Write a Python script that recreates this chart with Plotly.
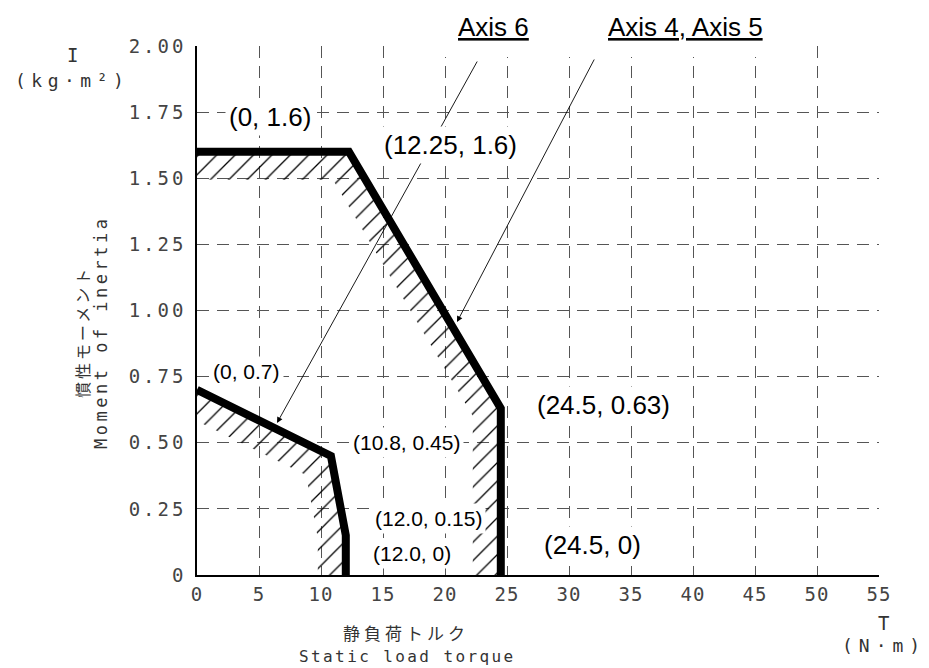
import numpy as np
import plotly.graph_objects as go

# ---------------- data ----------------
axis45_T = [0, 12.25, 24.5, 24.5]
axis45_I = [1.6, 1.6, 0.63, 0]
axis6_T = [0, 10.8, 12.0, 12.0]
axis6_I = [0.7, 0.45, 0.15, 0]

x_ticks = [0, 5, 10, 15, 20, 25, 30, 35, 40, 45, 50, 55]
y_ticks = [0, 0.25, 0.5, 0.75, 1.0, 1.25, 1.5, 1.75, 2.0]
y_ticktext = ["0", "0.25", "0.50", "0.75", "1.00", "1.25", "1.50", "1.75", "2.00"]

# ---------------- layout constants ----------------
OFF = 8                      # page body margin
W, H = 929 - OFF, 668 - OFF
L, T = 197 - OFF, 46 - OFF
R, B = W - (879 - OFF), H - (575 - OFF)
PW, PH = W - L - R, H - T - B
XR, YR = (0, 55), (0, 2)
SX = PW / (XR[1] - XR[0])   # px per data unit
SY = PH / (YR[1] - YR[0])

MONO = "DejaVu Sans Mono"
SANS = "Liberation Sans, Arial"
CJK = "Noto Sans CJK JP"


def pp(px, py):
    """screen pixel (of the 929x668 window) -> paper coords"""
    px, py = px - OFF, py - OFF
    return (px - L) / PW, (H - B - py) / PH


def spaced(text, ls):
    return '<span style="letter-spacing:%gpx">%s</span>' % (ls, text)


def inner_band(xs, ys, d):
    """polygon of a band of pixel thickness d on the inner side of a polyline"""
    P = np.column_stack([np.asarray(xs, float) * SX, np.asarray(ys, float) * SY])
    lines = []
    for i in range(len(P) - 1):
        a, b = P[i], P[i + 1]
        t = (b - a) / np.linalg.norm(b - a)
        n = np.array([t[1], -t[0]])
        lines.append((a + d * n, t))

    def inter(l1, l2):
        p, t = l1
        q, u = l2
        A = np.array([[t[0], -u[0]], [t[1], -u[1]]])
        s = np.linalg.solve(A, q - p)
        return p + s[0] * t

    start = (np.array([P[0][0], 0.0]), np.array([0.0, 1.0]))
    end = (np.array([0.0, P[-1][1]]), np.array([1.0, 0.0]))
    seq = [start] + lines + [end]
    inner = [inter(seq[i], seq[i + 1]) for i in range(len(seq) - 1)]
    inner = np.array(inner[::-1])
    poly = np.vstack([P, inner, P[:1]])
    return poly[:, 0] / SX, poly[:, 1] / SY


fig = go.Figure()

for xs, ys in [(axis45_T, axis45_I), (axis6_T, axis6_I)]:
    hx, hy = inner_band(xs, ys, 28)
    fig.add_trace(go.Scatter(
        x=hx, y=hy, mode="lines", fill="toself", line=dict(width=0, color="rgba(0,0,0,0)"),
        fillcolor="rgba(0,0,0,0)",
        fillpattern=dict(shape="/", fgcolor="black", bgcolor="rgba(0,0,0,0)",
                         size=13, solidity=0.1, fillmode="replace"),
        hoverinfo="skip", showlegend=False))

for xs, ys in [(axis45_T, axis45_I), (axis6_T, axis6_I)]:
    fig.add_trace(go.Scatter(x=xs, y=ys, mode="lines",
                             line=dict(color="black", width=8),
                             hoverinfo="skip", showlegend=False))

ann = []
# leader arrows (head px, tail px)
for (hx_, hy_), (tx_, ty_) in [((277, 423), (478, 60)), ((457, 322), (595, 58))]:
    x, y = pp(hx_, hy_)
    ann.append(dict(x=x, y=y, xref="paper", yref="paper", text="", showarrow=True,
                    ax=tx_ - hx_, ay=ty_ - hy_, axref="pixel", ayref="pixel",
                    arrowhead=2, arrowsize=1.3, arrowwidth=0.9, arrowcolor="black",
                    standoff=0, startstandoff=0))


def fmt(v):
    return str(v)


def add_text(txt, px, py, family, size, angle=0, color="black", **kw):
    x, y = pp(px, py)
    font = dict(family=family, size=size, color=color)
    font.update(kw.pop("font_extra", {}))
    ann.append(dict(x=x, y=y, xref="paper", yref="paper", showarrow=False, text=txt,
                    xanchor="center", yanchor="middle",
                    textangle=angle, font=font, **kw))


lab45_pos = [(270, 117), (450, 145), (603, 405), (592, 545)]
lab6_pos = [(246, 371), (406, 442), (428, 518), (412, 553)]
for xs, ys, poss, size in [(axis45_T, axis45_I, lab45_pos, 26), (axis6_T, axis6_I, lab6_pos, 21)]:
    for xv, yv, (px, py) in zip(xs, ys, poss):
        add_text("(%s, %s)" % (fmt(xv), fmt(yv)), px, py, SANS, size,
                 bgcolor="white", borderpad=3)

# series titles
add_text("Axis 6", 493, 27, SANS, 26, font_extra=dict(lineposition="under"))
add_text("Axis 4, Axis 5", 685, 27, SANS, 26, font_extra=dict(lineposition="under"))

# axis titles / units (thin CAD-like lettering)
TC = "#333"
add_text("I", 72, 55, MONO, 19, color=TC)
add_text(spaced("(kg·m²)", 5.5), 72, 81, MONO, 18, color=TC)
add_text(spaced("慣性モーメント", 3), 82, 332, CJK, 16, -90, color=TC)
add_text(spaced("Moment of inertia", 3.5), 101, 332, MONO, 17, -90, color=TC)
add_text(spaced("静負荷トルク", 4), 406, 632, CJK, 17, color=TC)
add_text(spaced("Static load torque", 2.4), 407, 656, MONO, 16, color=TC)
add_text("T", 883, 623, MONO, 19, color=TC)
add_text(spaced("(N·m)", 6), 884, 645, MONO, 18, color=TC)

# cover where the title boxes hide the top grid
c0 = pp(440, 57)
c1 = pp(803, 38)
shapes = [dict(type="rect", xref="paper", yref="paper", x0=c0[0], y0=c0[1], x1=c1[0], y1=c1[1],
               fillcolor="white", line=dict(width=0), layer="above")]

fig.update_layout(
    width=W, height=H, margin=dict(l=L, r=R, t=T, b=B),
    paper_bgcolor="white", plot_bgcolor="white", showlegend=False,
    annotations=ann, shapes=shapes,
    xaxis=dict(range=list(XR), tickvals=x_ticks,
               ticktext=[spaced(str(v), 1) for v in x_ticks],
               showgrid=True, gridcolor="#555", gridwidth=1, griddash="12px,8px",
               zeroline=False, showline=True, linecolor="black", linewidth=1.5,
               ticks="", ticklabelstandoff=1,
               tickfont=dict(family=MONO, size=19, color="#444")),
    yaxis=dict(range=list(YR), tickvals=y_ticks,
               ticktext=[spaced(t, 3) for t in y_ticktext],
               showgrid=True, gridcolor="#555", gridwidth=1, griddash="12px,8px",
               zeroline=False, showline=True, linecolor="black", linewidth=1.5,
               ticks="", ticklabelstandoff=5,
               tickfont=dict(family=MONO, size=19, color="#444")),
)

fig.write_html("out.html")
